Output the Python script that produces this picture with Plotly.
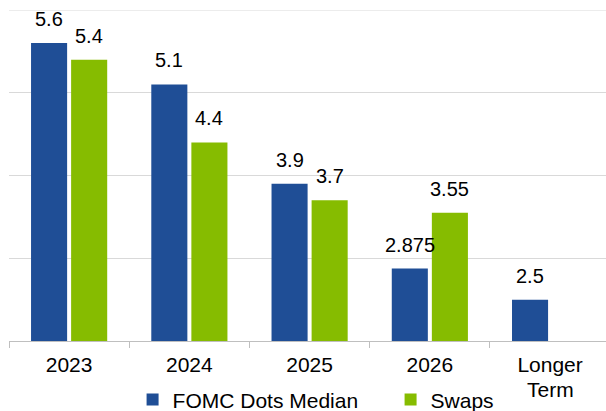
import plotly.graph_objects as go

categories = ["2023", "2024", "2025", "2026", "Longer Term"]
fomc_dots_median = [5.6, 5.1, 3.9, 2.875, 2.5]
swaps = [5.4, 4.4, 3.7, 3.55, None]
fomc_labels = ["5.6", "5.1", "3.9", "2.875", "2.5"]
swaps_labels = ["5.4", "4.4", "3.7", "3.55", ""]

BLUE = "#1F4E96"
GREEN = "#86BC00"
GRID = "#D9D9D9"
FONT = "Liberation Sans, Arial, sans-serif"

fig = go.Figure()
fig.add_trace(go.Bar(name="FOMC Dots Median", x=categories, y=fomc_dots_median,
                     marker=dict(color=BLUE, line=dict(width=0))))
fig.add_trace(go.Bar(name="Swaps", x=categories, y=swaps,
                     marker=dict(color=GREEN, line=dict(width=0))))

# value labels placed above each bar of the group (x given as category index)
annotations = []
for vals, labels, shift in ((fomc_dots_median, fomc_labels, -20), (swaps, swaps_labels, 20)):
    for i, (v, lab) in enumerate(zip(vals, labels)):
        if v is None:
            continue
        annotations.append(dict(x=i, y=v, xref="x", yref="y", text=lab,
                                showarrow=False, xshift=shift, yshift=11,
                                yanchor="bottom", xanchor="center",
                                font=dict(family=FONT, size=20, color="#000000")))

# second line of the last category label, set tighter than the default line height
annotations.append(dict(x=4, y=0, xref="x", yref="paper", text="Term", showarrow=False,
                        yanchor="top", xanchor="center", yshift=-35,
                        font=dict(family=FONT, size=21, color="#000000")))

tick_text = [c.split(" ")[0] for c in categories]

fig.update_layout(
    width=606, height=411,
    margin=dict(l=9, r=0, t=10, b=70, autoexpand=False),
    paper_bgcolor="white", plot_bgcolor="white",
    barmode="group", bargap=1/3, bargroupgap=0.1,
    font=dict(family=FONT, size=21, color="#000000"),
    annotations=annotations,
    # gridline along the top edge of the value range
    shapes=[dict(type="line", xref="paper", yref="y", x0=0, x1=1, y0=6, y1=6,
                 line=dict(color=GRID, width=1), layer="below")],
    showlegend=True,
    legend=dict(orientation="h", x=0.207, xanchor="left", y=-0.178, yanchor="middle",
                font=dict(family=FONT, size=21, color="#000000"),
                itemwidth=30, entrywidth=213, bgcolor="rgba(0,0,0,0)"),
    xaxis=dict(type="category", range=[-0.5, 4.465], showline=True, linecolor="#BFBFBF",
               linewidth=1, ticks="outside", tickson="boundaries", ticklen=6,
               tickcolor="#BFBFBF", showgrid=False, ticklabelstandoff=5,
               tickvals=list(range(len(categories))), ticktext=tick_text,
               tickfont=dict(family=FONT, size=21, color="#000000")),
    yaxis=dict(range=[2, 6], dtick=1, showticklabels=False, showgrid=True,
               gridcolor=GRID, gridwidth=1, zeroline=False, showline=False),
)

fig.write_html("out.html")
